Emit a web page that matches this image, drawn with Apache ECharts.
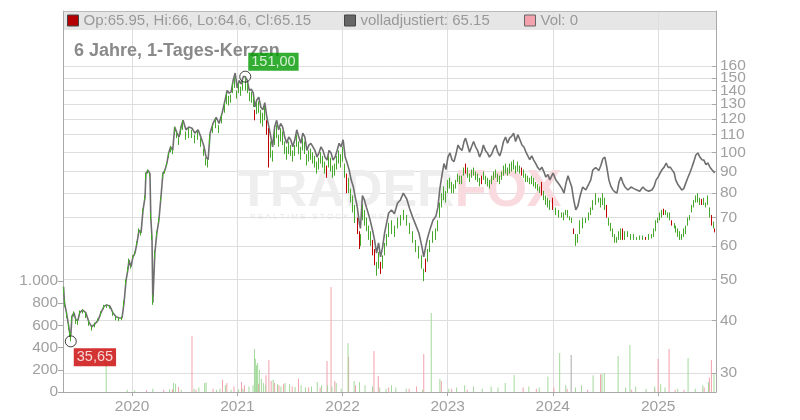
<!DOCTYPE html>
<html><head><meta charset="utf-8">
<script src="https://cdn.jsdelivr.net/npm/echarts@6/dist/echarts.min.js"></script>
<style>html,body{margin:0;padding:0;background:#fff}#c{width:800px;height:420px}</style>
</head><body><div id="c"></div>
<script>
// ---------- data ----------
const dates = [
'2019-05-08','2019-05-11','2019-05-18','2019-05-25','2019-05-29','2019-06-02','2019-06-06','2019-06-13','2019-06-20','2019-06-27','2019-07-03','2019-07-13','2019-07-24','2019-08-04','2019-08-14','2019-08-25','2019-09-05','2019-09-15','2019-09-26','2019-10-05','2019-10-16','2019-10-26','2019-11-06','2019-11-16','2019-11-27','2019-12-04','2019-12-11','2019-12-18','2019-12-21','2019-12-28',
'2020-01-04','2020-01-11','2020-01-18','2020-01-25','2020-02-01','2020-02-08','2020-02-15','2020-02-18','2020-02-25','2020-03-03','2020-03-06','2020-03-10','2020-03-13','2020-03-20','2020-03-27','2020-04-03','2020-04-10','2020-04-17','2020-04-24','2020-05-01','2020-05-07','2020-05-14','2020-05-21','2020-05-28','2020-06-05','2020-06-12','2020-06-19','2020-06-26','2020-07-06','2020-07-16','2020-07-27','2020-08-06','2020-08-17','2020-08-27','2020-09-07','2020-09-14','2020-09-21','2020-09-28','2020-10-08','2020-10-19','2020-10-29','2020-11-09','2020-11-19','2020-11-26','2020-12-03','2020-12-10','2020-12-17','2020-12-24','2020-12-31',
'2021-01-07','2021-01-14','2021-01-21','2021-01-28','2021-02-04','2021-02-11','2021-02-18','2021-02-25','2021-03-02','2021-03-09','2021-03-16','2021-03-23','2021-03-30','2021-04-06','2021-04-13','2021-04-20','2021-04-27','2021-05-03','2021-05-10','2021-05-17','2021-05-24','2021-05-31','2021-06-07','2021-06-14','2021-06-21','2021-06-28','2021-07-05','2021-07-12','2021-07-19','2021-07-26','2021-08-02','2021-08-09','2021-08-16','2021-08-23','2021-08-30','2021-09-06','2021-09-13','2021-09-20','2021-09-27','2021-10-04','2021-10-11','2021-10-18','2021-10-25','2021-11-01','2021-11-08','2021-11-15','2021-11-22','2021-11-29','2021-12-06','2021-12-13','2021-12-20','2021-12-27',
'2022-01-03','2022-01-10','2022-01-17','2022-01-24','2022-01-31','2022-02-07','2022-02-14','2022-02-21','2022-02-28','2022-03-04','2022-03-11','2022-03-18','2022-03-25','2022-04-02','2022-04-08','2022-04-15','2022-04-22','2022-04-29','2022-05-06','2022-05-13','2022-05-20','2022-05-27','2022-06-03','2022-06-10','2022-06-20','2022-06-30','2022-07-11','2022-07-21','2022-07-31','2022-08-12','2022-08-22','2022-09-02','2022-09-13','2022-09-23','2022-10-03','2022-10-10','2022-10-17','2022-10-24','2022-10-31','2022-11-11','2022-11-21','2022-11-28','2022-12-05','2022-12-12','2022-12-19','2022-12-26',
'2023-01-02','2023-01-09','2023-01-16','2023-01-23','2023-01-30','2023-02-06','2023-02-13','2023-02-20','2023-02-27','2023-03-04','2023-03-11','2023-03-18','2023-03-25','2023-04-01','2023-04-08','2023-04-15','2023-04-22','2023-04-29','2023-05-05','2023-05-12','2023-05-19','2023-05-26','2023-06-03','2023-06-10','2023-06-17','2023-06-24','2023-07-01','2023-07-07','2023-07-14','2023-07-21','2023-07-28','2023-08-04','2023-08-11','2023-08-18','2023-08-25','2023-09-02','2023-09-09','2023-09-16','2023-09-23','2023-09-30','2023-10-06','2023-10-13','2023-10-20','2023-10-27','2023-11-03','2023-11-10','2023-11-17','2023-11-24','2023-12-01','2023-12-08','2023-12-15','2023-12-22',
'2024-01-02','2024-01-12','2024-01-23','2024-02-02','2024-02-09','2024-02-16','2024-02-23','2024-03-01','2024-03-07','2024-03-14','2024-03-21','2024-03-28','2024-04-04','2024-04-14','2024-04-25','2024-05-05','2024-05-12','2024-05-19','2024-05-29','2024-06-09','2024-06-16','2024-06-23','2024-06-30','2024-07-07','2024-07-14','2024-07-21','2024-07-28','2024-08-04','2024-08-11','2024-08-18','2024-08-25','2024-09-01','2024-09-08','2024-09-18','2024-09-29','2024-10-09','2024-10-19','2024-10-29','2024-11-09','2024-11-19','2024-11-30','2024-12-11','2024-12-18','2024-12-25',
'2025-01-01','2025-01-08','2025-01-15','2025-01-22','2025-01-29','2025-02-05','2025-02-12','2025-02-19','2025-02-26','2025-03-03','2025-03-10','2025-03-17','2025-03-24','2025-03-31','2025-04-07','2025-04-14','2025-04-21','2025-04-28','2025-05-05','2025-05-12','2025-05-19','2025-05-26','2025-06-02','2025-06-09','2025-06-16','2025-06-23','2025-06-30','2025-07-06','2025-07-13','2025-07-16'
];
const adjClose = [
48,44,41.7,39,37.4,36.8,40.8,41.7,40,40,41.7,42.3,41.7,39.6,38.6,39.2,40,41.7,43.2,43.5,43.2,41.7,40.8,40.5,40.5,44,49.7,53,55.6,53.5,
56.5,57.7,61,65.4,64.4,73,78.3,89,90.7,89,70,63,44,57.7,64.4,69,78,89,90.7,94.3,99.6,103,101,114.7,111,108.6,114.7,119,113,114.7,114,111,113,108.6,103,97.4,96,111,117,121,117,124,133,140,138,139,148,154,142,
148,145,151,151,148,140,141,138,128,133,135,128,126,131,121,115,108.6,103,114.7,119,113,117,114.7,108.6,105,108.6,107,103,107,113,108.6,105,111,108.6,101,104,105,103,101,97.4,99.6,103,101,97.4,95.8,101,99.6,95.8,97.4,101,105,103,
107,97.4,94.3,90.7,85.9,83,78.3,74.2,68,66,79,77,74,71,68.5,65.4,62,57.7,61,56.5,59.6,64.4,68,71.8,73,71.5,75.8,77.1,80,77.5,73.5,70,67,64.4,60,56.5,60,63,65.4,69,70.5,74,82,88,94,91,
97.4,99.6,96,95,99,104,102,101,106,108,104,100,103,106,103,101,97.4,100,104,101,99.6,97.4,99,102,104,100,98,101,106,108.6,105,108,109,111,106,110,107,104,102.9,100,99.6,96,98,95.8,94,92,90.7,92.2,90,87.3,88.6,86,
89.3,85.9,84,82,80,84.5,88,85,82.7,77,73,74.5,78.3,82.7,81.4,84,86,90.7,92,90.5,93,96.5,97.4,92,86,83,81.4,80.5,80,85,87.3,84.5,82.7,81.4,82.7,82,81.4,80.8,82.7,81.4,80.8,81.5,83,86,
87.3,89.3,91,92.2,94.3,92,92.2,90.7,89.3,86,84,82.7,81.4,82,84.5,87,89.3,92,95,98.5,99.6,97.4,96,95.8,93.5,94.3,92.2,91,90,89.3
];
const candleLow = [
46,43,40.5,38,36.5,35.65,39.5,40.8,39.2,39,41,41.5,40.5,38.8,37.8,38.5,39.6,41,42.5,42.8,42.6,41,40,39.8,40,43,48.5,52,54.5,53,
56,57,60,64.5,63.5,72,77,86,89,87.5,69,62,43.5,56,63,68,76.5,87,89,92.5,97,100,99,111,108,104,110,113,107,108,108,105,107,103,98,93,92,104,111,114,111,117,124,130,129,131,138,142,134,
138,136,140,140,138,132,131,128,119,123,124,117,115,119,110,92,97,95,104,108,103,106,104,99,96,99,98,95,98,103,99,96,101,99,93,95,96,94,92,89,91,94,92,89,87,92,90,87,88,91,94,92,
95,87,80,80,76,72,68,64,59,60,69,67,65,62,60,57,54,51,53,51.5,53,57,60,63,64,63,66,67,69,67,64,61,58,56,53,49.5,52,55,58,61,62,65,70,74,77,76,
80,82,80,80,82,85,84,84,88,89,87,85,87,88,86,85,83,84,86,84,83,82,84,86,87,85,84,86,88,89,88,89,90,91,89,90,89,88,87,85,85,84,84,83,82,81,80,79,77,75,74,73,
73,71,70,70,69,71,70,69,68,64,60,61,64,66,68,69,71,73,75,76,74,75,73,70,67,65,63,61,61,62,62,62,62,63,62,62,62,62,62,62,62,62.5,63,65,
68,69,70,71,71,70,69,67,66,64.5,63,62,62,63,64,67,69,72,74,76,76,75,75,75,74,75,70,67,66,64.6
];
const candleHigh = [
48,45,42,39.5,37.8,37.5,41,42,40.5,40.2,42.2,42.5,41.8,40,38.8,39.5,40.4,42,43.5,43.6,43.4,42,41,40.7,40.8,44.5,50,53.5,56,54,
57,58.2,61.5,66,65,73.5,79,89.5,91,89.5,72,64,46,58.5,65,70,78.5,89.5,91,94.5,100,103.5,101.5,115,111.5,108.5,115,119,112,114,113,110,112,108,102,97,96,110,116,120,116,123,131,138,136,137,146,150,140,
146,143,148,150,146,139,139,136,126,131,132,126,124,128,119,114,106,101,112,116,110,114,112,106,103,106,104,101,104,110,106,103,108,106,99,101,102,100,98,95,97,100,98,95,93,98,97,93,94,98,101,99,
103,94,89,87,82,79,75,70,65,64,75,73,70,67,65,62,59,55,58,55,57,61,64,68,69,67,70,71,73,71,68,65,62,60,57,53,56,59,62,65,66,69,76,80,83,81,
86,87,85,84,86,89,88,88,92,94,92,89,91,92,90,89,87,88,90,88,87,86,88,90,91,89,88,90,93,94,92,94,95,96,93,95,93,92,91,89,88,87,88,87,85,84,83,85,81,79,78,77,
78,74,73,72,72,73,73,70.5,70,66,64,64,69,70,70,72,74,77,80,78,78,80,78,75,70,68,66,64,63,65,66,66,65,65,64,64,63,63.5,63.5,63,64,64,66,69,
70,72,73,73.5,73,72,72,69,68,67,66,65,64,66,67,70,71,75,77,79,80,78,77.5,78,76,79,74,71,68.5,66
];
const redCandleDates = ['2021-03-02','2021-04-13','2021-04-20','2021-11-08','2022-01-17','2022-02-21','2022-02-28','2022-04-15','2022-04-22','2022-05-13','2022-10-17','2023-03-04','2023-04-29','2023-09-16','2023-11-24','2024-01-02','2024-03-14','2024-07-07','2024-09-01','2024-11-19','2025-01-22','2025-02-19','2025-06-02','2025-07-06','2025-07-16'];

const volUpDates = ['2019-10-03','2019-12-15','2020-01-10','2020-03-13','2020-05-10','2020-05-24','2020-05-31','2020-06-20','2020-08-03','2020-08-20','2020-09-09','2020-09-14','2020-10-20','2020-11-01','2020-11-20','2020-12-10','2021-01-05','2021-01-20','2021-02-10','2021-02-24','2021-03-01','2021-03-04','2021-03-08','2021-03-12','2021-03-18','2021-03-25','2021-04-01','2021-04-08','2021-05-05','2021-05-20','2021-06-01','2021-06-15','2021-07-01','2021-07-20','2021-08-10','2021-08-25','2021-09-15','2021-10-05','2021-10-20','2021-11-10','2021-11-25','2021-12-10','2021-12-27','2022-01-20','2022-02-10','2022-03-01','2022-03-20','2022-04-15','2022-05-10','2022-06-01','2022-06-20','2022-07-05','2022-08-10','2022-10-06','2022-11-05','2022-12-05','2023-01-05','2023-02-01','2023-03-01','2023-04-01','2023-05-01','2023-06-01','2023-06-25','2023-07-20','2023-08-20','2023-10-10','2023-11-15','2023-12-15','2024-01-25','2024-02-15','2024-03-20','2024-04-10','2024-05-20','2024-06-20','2024-06-28','2024-08-15','2024-09-10','2024-09-25','2024-10-15','2024-11-20','2024-12-20','2025-01-10','2025-01-25','2025-03-10','2025-04-15','2025-05-10','2025-06-05','2025-06-25','2025-07-14'];
const volUpValues = [260,20,15,30,25,80,75,20,30,40,80,85,20,30,60,20,25,30,50,60,387,300,240,260,200,120,80,60,110,70,50,80,70,45,60,40,50,90,60,60,50,80,30,438,100,90,60,50,40,30,60,40,30,20,711,120,30,40,60,50,30,50,40,80,153,50,40,140,351,60,40,60,150,160,170,324,40,423,50,30,50,70,40,30,306,30,60,90,160];
const volDownDates = ['2020-02-20','2020-04-20','2020-05-20','2020-06-10','2020-07-27','2020-08-10','2020-10-08','2020-11-10','2020-11-25','2020-12-20','2021-01-15','2021-01-25','2021-03-15','2021-04-10','2021-04-20','2021-04-28','2021-05-10','2021-05-25','2021-06-10','2021-07-10','2021-08-01','2021-09-05','2021-10-15','2021-11-08','2021-11-22','2021-12-05','2022-01-22','2022-02-15','2022-04-20','2022-05-05','2022-06-10','2022-08-20','2022-09-15','2022-10-10','2022-12-10','2023-01-15','2023-03-10','2023-09-20','2023-11-05','2024-01-05','2024-02-20','2024-05-01','2024-06-15','2024-10-01','2024-12-20','2025-01-01','2025-02-08','2025-03-01','2025-04-01','2025-06-10','2025-06-28','2025-07-05'];
const volDownValues = [15,20,25,45,504,20,30,110,80,50,90,60,70,150,288,100,80,60,70,50,120,40,40,279,945,100,318,60,369,144,40,30,50,342,100,30,20,40,30,40,30,20,160,20,30,297,387,20,20,40,130,288];
const volFlatDates = ['2024-03-05'];
const volFlatValues = [333];

const yearTicks = [2020, 2021, 2022, 2023, 2024, 2025];
const priceTicks = [30, 40, 50, 60, 70, 80, 90, 100, 110, 120, 130, 140, 150, 160];
const volumeTicks = [0, 200, 400, 600, 800, 1000];
const extremeDates = ['2021-01-28', '2019-06-02'];
const extremeValues = [151, 35.65];
const legendOHLC = [65.95, 66, 64.6, 65.15];
const legendAdjusted = 65.15;
const legendVolume = 0;
const xStart = '2019-05-06', xEnd = '2025-07-21';

// ---------- build ----------
const PMIN = 27.05, PMAX = 216;
const ts = s => new Date(s + 'T00:00:00Z').getTime();
const yearTs = yearTicks.map(y => Date.UTC(y, 0, 1));
const redSet = new Set(redCandleDates);
const candleData = dates.map((d, i) => redSet.has(d)
  ? [ts(d), candleHigh[i], candleLow[i], candleLow[i], candleHigh[i]]
  : [ts(d), candleLow[i], candleHigh[i], candleLow[i], candleHigh[i]]);
const lineData = dates.map((d, i) => [ts(d), adjClose[i]]);
const pair = (ds, vs) => ds.map((d, i) => [ts(d), vs[i]]);
const thousands = v => String(v).replace(/\B(?=(\d{3})+(?!\d))/g, '.');
const comma2 = v => v.toFixed(2).replace('.', ',');
// an empty label slot at the axis end keeps ECharts from dropping the (overlapping) top tick labels
const priceLabelSlots = priceTicks.concat([PMAX]);
const priceLabel = v => (v > priceTicks[priceTicks.length - 1] + 1 ? '' : String(Math.round(v)));

const FONT = "'Liberation Sans', Arial, Helvetica, sans-serif";
const AX = '#a8a8a8', LBL = '#a0a0a0', GRID = '#dedede';
const legendText = {fontFamily: FONT, fontSize: 15, color: '#999'};
const labelStyle = {color: LBL, fontSize: 15.5, fontFamily: FONT};

const chart = echarts.init(document.getElementById('c'), null, {renderer: 'canvas'});
chart.setOption({
  animation: false,
  backgroundColor: '#fff',
  title: {text: '6 Jahre, 1-Tages-Kerzen', left: 69, top: 37,
    textStyle: {fontFamily: FONT, fontSize: 18, fontWeight: 'bold', color: '#8a8a8a'}},
  legend: [
    {left: 67, top: 13, itemWidth: 11, itemHeight: 11, selectedMode: false, padding: 0,
     data: [{name: 'Kurs', icon: 'rect', itemStyle: {color: '#b40000', borderColor: '#444', borderWidth: 1}}],
     formatter: () => `Op:${legendOHLC[0]}, Hi:${legendOHLC[1]}, Lo:${legendOHLC[2]}, Cl:${legendOHLC[3]}`,
     textStyle: legendText},
    {left: 344, top: 13, itemWidth: 11, itemHeight: 11, selectedMode: false, padding: 0,
     data: [{name: 'volladjustiert', icon: 'rect', itemStyle: {color: '#666', borderColor: '#444', borderWidth: 1}}],
     formatter: () => `volladjustiert: ${legendAdjusted}`, textStyle: legendText},
    {left: 524, top: 13, itemWidth: 11, itemHeight: 11, selectedMode: false, padding: 0,
     data: [{name: 'Vol', icon: 'rect', itemStyle: {color: '#f2a2ac', borderColor: '#666', borderWidth: 1}}],
     formatter: () => `Vol: ${legendVolume}`, textStyle: legendText}
  ],
  graphic: [
    {type: 'rect', z: -10, shape: {x: 63, y: 11, width: 653, height: 19}, style: {fill: '#e6e6e6'}},
    {type: 'line', z: 10, shape: {x1: 63, y1: 11.5, x2: 716, y2: 11.5}, style: {stroke: '#bbb', lineWidth: 1}},
    {type: 'text', z: 1, x: 238, y: 166, style: {
      text: '{a|TRADER}{b|FOX}',
      rich: {a: {fontFamily: FONT, fontWeight: 'bold', fontSize: 52, fill: '#eeeeee'},
             b: {fontFamily: FONT, fontWeight: 'bold', fontSize: 52, fill: '#f9dade'}}}},
    {type: 'text', z: 1, x: 250, y: 213, style: {text: 'R E A L T I M E   S T O C K   S C R E E N I N G',
      fontFamily: FONT, fontSize: 8, fill: '#e8e8e8'}}
  ],
  grid: {left: 63, right: 84, top: 11, bottom: 28, containLabel: false, outerBoundsMode: 'none'},
  xAxis: {
    type: 'value', min: ts(xStart), max: ts(xEnd),
    axisLine: {show: true, lineStyle: {color: AX}},
    axisTick: {show: true, length: 4, customValues: yearTs, lineStyle: {color: AX}},
    axisLabel: Object.assign({customValues: yearTs, formatter: v => String(new Date(v).getUTCFullYear()),
      margin: 7, hideOverlap: false}, labelStyle),
    splitLine: {show: true, lineStyle: {color: GRID}}
  },
  yAxis: [
    {type: 'value', position: 'left', min: 0, max: 3430,
     axisLine: {show: true, lineStyle: {color: AX}},
     axisTick: {show: true, length: 5, customValues: volumeTicks, lineStyle: {color: AX}},
     axisLabel: Object.assign({customValues: volumeTicks, formatter: v => thousands(v), margin: 5, hideOverlap: false}, labelStyle),
     splitLine: {show: false}},
    {type: 'log', logBase: 10, position: 'right', min: PMIN, max: PMAX,
     axisLine: {show: true, lineStyle: {color: AX}},
     axisTick: {show: true, inside: true, length: 4, customValues: priceTicks, lineStyle: {color: AX}},
     axisLabel: Object.assign({customValues: priceLabelSlots, formatter: priceLabel, margin: 4, hideOverlap: false}, labelStyle),
     splitLine: {show: true, lineStyle: {color: GRID}}}
  ],
  series: [
    {name: 'Vol', type: 'bar', yAxisIndex: 0, barWidth: 1, barGap: '-100%', z: 2,
     itemStyle: {color: '#f2a2ac'}, data: pair(volDownDates, volDownValues)},
    {name: 'VolUp', type: 'bar', yAxisIndex: 0, barWidth: 1, barGap: '-100%', z: 2,
     itemStyle: {color: '#a3d99b'}, data: pair(volUpDates, volUpValues)},
    {name: 'VolFlat', type: 'bar', yAxisIndex: 0, barWidth: 1, barGap: '-100%', z: 2,
     itemStyle: {color: '#aaaaaa'}, data: pair(volFlatDates, volFlatValues)},
    {name: 'volladjustiert', type: 'line', yAxisIndex: 1, symbol: 'none', z: 3,
     lineStyle: {color: '#6f6f6f', width: 1.6}, data: lineData},
    {name: 'Kurs', type: 'candlestick', yAxisIndex: 1, barWidth: 0.1, z: 4,
     itemStyle: {color: '#46a82c', color0: '#c00000', borderColor: '#46a82c', borderColor0: '#c00000', borderWidth: 1},
     data: candleData},
    {name: 'Extreme', type: 'scatter', yAxisIndex: 1, symbol: 'circle', symbolSize: 11, z: 6,
     itemStyle: {color: 'rgba(255,255,255,0.01)', borderColor: '#111', borderWidth: 1},
     data: extremeDates.map((d, i) => ({
       value: [ts(d), extremeValues[i]],
       label: {show: true, position: 'right', distance: 0,
         offset: i === 0 ? [-3, -15] : [-3, 16],
         formatter: () => comma2(extremeValues[i]),
         backgroundColor: i === 0 ? '#009a00' : '#c80000',
         color: '#fff', fontFamily: FONT, fontSize: 14.5, padding: [2, 3, 1, 3]}
     }))}
  ]
});
</script>
</body></html>
